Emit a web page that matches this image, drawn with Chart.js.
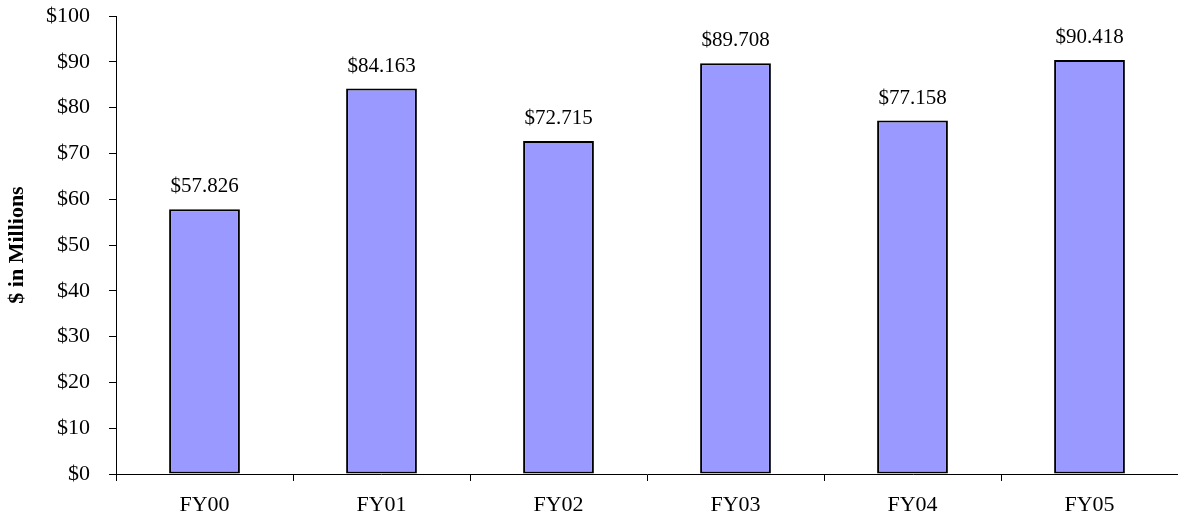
<!DOCTYPE html>
<html>
<head>
<meta charset="utf-8">
<script src="https://cdn.jsdelivr.net/npm/chart.js@4/dist/chart.umd.min.js"></script>
<style>
  html, body { margin: 0; padding: 0; background: #fff; }
  #wrap { width: 1178px; height: 524px; position: relative; }
</style>
</head>
<body>
<div id="wrap"><canvas id="c" width="1178" height="524"></canvas></div>
<script>
const categories = ['FY00', 'FY01', 'FY02', 'FY03', 'FY04', 'FY05'];
const values = [57.826, 84.163, 72.715, 89.708, 77.158, 90.418];
const valueLabels = ['$57.826', '$84.163', '$72.715', '$89.708', '$77.158', '$90.418'];
const yTitle = '$ in Millions';

const FONT = "'Liberation Serif', 'Times New Roman', serif";

const labelPlugin = {
  id: 'valueLabels',
  afterDatasetsDraw(chart) {
    const ctx = chart.ctx;
    const meta = chart.getDatasetMeta(0);
    ctx.save();
    ctx.font = '21px ' + FONT;
    ctx.fillStyle = '#000';
    ctx.textAlign = 'center';
    ctx.textBaseline = 'alphabetic';
    meta.data.forEach((bar, i) => {
      ctx.fillText(valueLabels[i], bar.x, bar.y - 17);
    });
    ctx.restore();
  }
};

new Chart(document.getElementById('c'), {
  type: 'bar',
  data: {
    labels: categories,
    datasets: [{
      data: values,
      backgroundColor: '#9999FF',
      borderColor: '#000000',
      borderWidth: 2,
      borderSkipped: false,
      barPercentage: 0.4,
      categoryPercentage: 1.0
    }]
  },
  options: {
    responsive: false,
    animation: false,
    devicePixelRatio: 1,
    layout: { padding: { top: 16, right: 0, left: 0, bottom: 0 } },
    plugins: { legend: { display: false }, tooltip: { enabled: false } },
    scales: {
      x: {
        offset: true,
        grid: { display: true, drawOnChartArea: false, drawTicks: true, tickLength: 7, color: '#000', offset: true },
        border: { display: true, color: '#000', width: 1 },
        ticks: { color: '#000', font: { family: FONT, size: 22 }, padding: 11, maxRotation: 0 },
        afterFit(scale) { scale.height = 50; scale.paddingLeft = 0; scale.paddingRight = 0; }
      },
      y: {
        min: 0, max: 100,
        grid: { display: true, drawOnChartArea: false, drawTicks: true, tickLength: 7, color: '#000' },
        border: { display: true, color: '#000', width: 1 },
        ticks: { stepSize: 10, color: '#000', font: { family: FONT, size: 22 }, padding: 19,
          callback: v => '$' + v },
        title: { display: true, text: yTitle, color: '#000', font: { family: FONT, size: 22, weight: 'bold' }, padding: { top: 4, bottom: 0 } },
        afterFit(scale) { scale.width = 116; scale.paddingTop = 0; scale.paddingBottom = 0; }
      }
    }
  },
  plugins: [labelPlugin]
});
</script>
</body>
</html>
